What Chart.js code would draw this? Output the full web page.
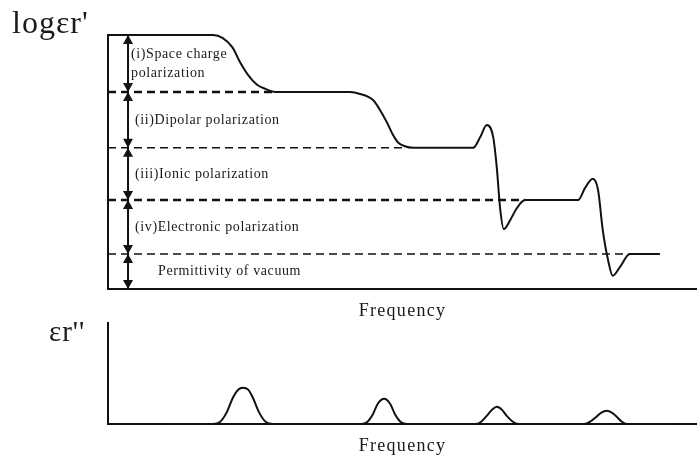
<!DOCTYPE html>
<html>
<head>
<meta charset="utf-8">
<script src="https://cdn.jsdelivr.net/npm/chart.js@4.4.1/dist/chart.umd.min.js"></script>
<style>
  html, body { margin: 0; padding: 0; background: #fff; }
  #wrap { position: relative; width: 697px; height: 461px; }
  #wrap canvas { position: absolute; left: 0; top: 0; }
</style>
</head>
<body>
<div id="wrap">
  <canvas id="real-part" width="697" height="461"></canvas>
  <canvas id="loss-part" width="697" height="461"></canvas>
</div>
<script>
// log frequency, arbitrary units across the plot (0..10)
const realFreq = [0, 1.78, 1.95, 2.11, 2.24, 2.38, 2.53, 2.67, 2.84,
  4.11, 4.28, 4.50, 4.62, 4.74, 4.84, 4.92, 5.04, 5.18,
  6.20, 6.32, 6.43, 6.54, 6.60, 6.66, 6.72, 6.83, 6.94, 7.08,
  7.98, 8.10, 8.23, 8.32, 8.40, 8.49, 8.57, 8.69, 8.86, 9.37];
// log eps' for each frequency above
const realLogEps = [5.00, 5.00, 4.94, 4.76, 4.47, 4.21, 4.02, 3.94, 3.88,
  3.88, 3.84, 3.72, 3.52, 3.27, 3.03, 2.89, 2.81, 2.78,
  2.78, 2.99, 3.23, 2.99, 2.40, 1.56, 1.18, 1.36, 1.59, 1.75,
  1.75, 1.99, 2.17, 1.95, 1.16, 0.57, 0.26, 0.43, 0.69, 0.69];

// plateau levels, from the top step down to the axis
const levelValues = [5.00, 3.88, 2.78, 1.75, 0.69, 0];
// where each dashed level line runs into the curve
const levelEnds = [2.80, 5.04, 7.08, 8.86];
const levelDashWidth = [2.5, 1.5, 2.5, 1.5];
const levelLabels = [
  ['(i)Space charge', 'polarization'],
  ['(ii)Dipolar polarization'],
  ['(iii)Ionic polarization'],
  ['(iv)Electronic polarization'],
  ['Permittivity of vacuum']
];
const arrowFreq = 0.34;

// loss factor eps'' against the same frequency units
const lossFreq = [0.92,
  1.78, 1.90, 2.02, 2.12, 2.21, 2.29, 2.38, 2.46, 2.56, 2.68, 2.80,
  4.30, 4.40, 4.50, 4.58, 4.69, 4.79, 4.87, 4.97, 5.08,
  6.23, 6.33, 6.43, 6.52, 6.60, 6.69, 6.77, 6.88, 6.98,
  8.08, 8.18, 8.29, 8.37, 8.47, 8.56, 8.64, 8.73, 8.83,
  9.64];
const lossValues = [0,
  0, 0.02, 0.12, 0.26, 0.34, 0.36, 0.34, 0.26, 0.12, 0.02, 0,
  0, 0.02, 0.10, 0.20, 0.25, 0.20, 0.10, 0.02, 0,
  0, 0.02, 0.08, 0.14, 0.17, 0.14, 0.08, 0.02, 0,
  0, 0.02, 0.07, 0.11, 0.13, 0.11, 0.07, 0.02, 0,
  0];

const INK = '#111';
const SERIF = '"Liberation Serif", "Times New Roman", serif';

const zip = (xs, ys) => xs.map((x, i) => ({ x, y: ys[i] }));

// draws text items returned by getItems(chart) after the chart is drawn
function textPlugin(getItems) {
  return {
    id: 'plotText',
    afterDraw(chart) {
      const ctx = chart.ctx;
      ctx.save();
      ctx.fillStyle = '#1a1a1a';
      getItems(chart).forEach(item => {
        ctx.font = item.font;
        ctx.letterSpacing = item.spacing || '0px';
        ctx.textAlign = item.align || 'left';
        ctx.textBaseline = item.baseline || 'alphabetic';
        ctx.fillText(item.text, item.x, item.y);
      });
      ctx.restore();
    }
  };
}

// filled heads on both ends of datasets flagged with arrow: true
const arrowHeads = {
  id: 'arrowHeads',
  afterDatasetsDraw(chart) {
    const ctx = chart.ctx;
    ctx.save();
    ctx.fillStyle = INK;
    chart.data.datasets.forEach((ds, i) => {
      if (!ds.arrow) return;
      const pts = chart.getDatasetMeta(i).data;
      [[pts[0], pts[1]], [pts[1], pts[0]]].forEach(([tip, from]) => {
        const dir = Math.sign(tip.y - from.y);
        ctx.beginPath();
        ctx.moveTo(tip.x, tip.y);
        ctx.lineTo(tip.x - 5, tip.y - dir * 9);
        ctx.lineTo(tip.x + 5, tip.y - dir * 9);
        ctx.closePath();
        ctx.fill();
      });
    });
    ctx.restore();
  }
};

function axes(yMax) {
  const common = {
    type: 'linear',
    grid: { display: false, drawTicks: false, tickLength: 0 },
    ticks: { display: false, padding: 0 },
    border: { display: true, color: INK, width: 2 }
  };
  return {
    x: { ...common, min: 0, max: 10 },
    y: { ...common, min: 0, max: yMax }
  };
}

function baseOptions(padding, yMax) {
  return {
    responsive: false,
    animation: false,
    devicePixelRatio: 1,
    layout: { padding, autoPadding: false },
    scales: axes(yMax),
    plugins: { legend: { display: false }, tooltip: { enabled: false } }
  };
}

// ---- log eps' vs frequency ----
const realDatasets = [{
  data: zip(realFreq, realLogEps),
  borderColor: INK,
  borderWidth: 2,
  pointRadius: 0,
  cubicInterpolationMode: 'monotone',
  clip: false
}];

levelEnds.forEach((end, i) => {
  const y = levelValues[i + 1];
  realDatasets.push({
    data: [{ x: 0, y }, { x: end, y }],
    borderColor: INK,
    borderWidth: levelDashWidth[i],
    borderDash: [8, 5],
    pointRadius: 0,
    clip: false
  });
});

levelLabels.forEach((_, i) => {
  realDatasets.push({
    data: [{ x: arrowFreq, y: levelValues[i] }, { x: arrowFreq, y: levelValues[i + 1] }],
    borderColor: INK,
    borderWidth: 2,
    pointRadius: 0,
    clip: false,
    arrow: true
  });
});

new Chart(document.getElementById('real-part'), {
  type: 'line',
  data: { datasets: realDatasets },
  options: baseOptions({ left: 108, right: 0, top: 35, bottom: 172 }, 5),
  plugins: [arrowHeads, textPlugin(chart => {
    const xs = chart.scales.x, ys = chart.scales.y, area = chart.chartArea;
    const ax = xs.getPixelForValue(arrowFreq);
    const items = [
      { text: "log\u03b5r'", x: 12, y: 33, font: `32px ${SERIF}`, spacing: '1px' },
      { text: 'Frequency', x: (area.left + area.right) / 2, y: area.bottom + 27,
        font: `18px ${SERIF}`, spacing: '1.3px', align: 'center' }
    ];
    const insets = [3, 7, 7, 7, 30];
    levelLabels.forEach((lines, i) => {
      const mid = (ys.getPixelForValue(levelValues[i]) + ys.getPixelForValue(levelValues[i + 1])) / 2;
      lines.forEach((text, k) => {
        items.push({
          text, x: ax + insets[i], y: mid + (k - (lines.length - 1) / 2) * 19,
          font: `14px ${SERIF}`, spacing: '0.6px', baseline: 'middle'
        });
      });
    });
    return items;
  })]
});

// ---- eps'' vs frequency ----
new Chart(document.getElementById('loss-part'), {
  type: 'line',
  data: {
    datasets: [{
      data: zip(lossFreq, lossValues),
      borderColor: INK,
      borderWidth: 2,
      pointRadius: 0,
      cubicInterpolationMode: 'monotone',
      clip: false
    }]
  },
  options: baseOptions({ left: 108, right: 0, top: 323, bottom: 37 }, 1),
  plugins: [textPlugin(chart => {
    const area = chart.chartArea;
    return [
      { text: "\u03b5r''", x: 49, y: 341, font: `29px ${SERIF}`, spacing: '1px' },
      { text: 'Frequency', x: (area.left + area.right) / 2, y: area.bottom + 27,
        font: `18px ${SERIF}`, spacing: '1.3px', align: 'center' }
    ];
  })]
});
</script>
</body>
</html>
